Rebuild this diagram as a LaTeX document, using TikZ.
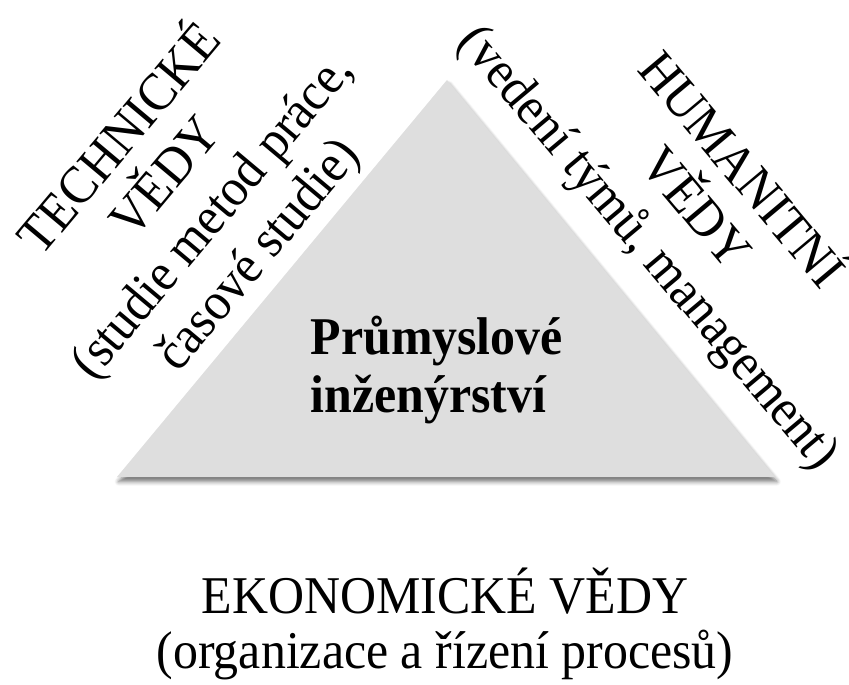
\documentclass[tikz,border=0pt]{standalone}
\usepackage{fontspec}
\setmainfont{Liberation Serif}[FakeStretch=0.94]
\usepackage{xcolor}
\usepackage{tikz}
\usetikzlibrary{shadows.blur}
\definecolor{triangray}{HTML}{DEDEDE}
\definecolor{shadegray}{HTML}{6E6E6E}

\begin{document}
\begin{tikzpicture}[
    sidetext/.style={align=center,inner sep=0pt,font=\fontsize{15.1}{17}\selectfont},
    basetext/.style={align=center,inner sep=0pt,font=\fontsize{15.1}{15.6}\selectfont}]
    \useasboundingbox (0,0) rectangle (8.49,6.84);
    \fill[triangray,blur shadow={shadow xshift=0.5pt,shadow yshift=-1.3pt,shadow blur radius=1.2pt,shadow blur steps=6,shadow opacity=55}]
        (1.17,2.07) -- (4.47,6.04) -- (7.75,2.07) -- cycle;
    \node[anchor=west,align=left,inner sep=0pt,font=\fontsize{15.1}{16.5}\selectfont\bfseries] (core) at (3.10,3.14) {Průmyslové\\inženýrství};
    \node[sidetext,rotate=50] (tech) at (1.88,4.88) {TECHNICKÉ\\VĚDY\\(studie metod práce,\\časové studie)};
    \node[sidetext,rotate=-50] (human) at (6.96,4.76) {HUMANITNÍ\\VĚDY\\(vedení týmů, management)};
    \node[basetext] (econ) at (4.45,0.60) {EKONOMICKÉ VĚDY\\(organizace a řízení procesů)};
\end{tikzpicture}
\end{document}
